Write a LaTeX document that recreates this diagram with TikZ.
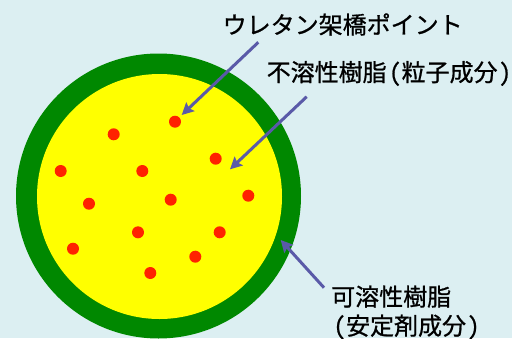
\documentclass[tikz,border=0pt]{standalone}
\usepackage{fontspec}
\newfontfamily\jph[RawFeature={+halt},FakeBold=0.8]{Noto Sans CJK JP}
\newfontfamily\jpw[RawFeature={+hwid},FakeBold=0.8]{Noto Sans CJK JP}
\newcommand{\lp}{{\jpw\hspace{0.1em}（\hspace{0.02em}}}
\newcommand{\rp}{{\jpw\hspace{0.06em}）}}
\usetikzlibrary{arrows.meta}
\definecolor{bg}{RGB}{220,239,242}
\definecolor{shell}{RGB}{0,136,0}
\definecolor{core}{RGB}{255,255,0}
\definecolor{dot}{RGB}{255,34,0}
\definecolor{arr}{RGB}{90,90,168}
\begin{document}
\begin{tikzpicture}[x=1pt,y=-1pt,
  lbl/.style={font=\jph\fontsize{24}{29}\selectfont, anchor=west, inner sep=0pt, text=black},
  ptr/.style={draw=arr, line width=3pt, -{Stealth[length=12pt,width=12pt,inset=2pt]}},
  dotm/.style={circle, fill=dot, minimum size=12pt, inner sep=0pt}]
\path[fill=bg] (0,0) rectangle (512,338);
\useasboundingbox (0,0) rectangle (512,338);
\fill[shell] (158.5,196) circle[radius=142.5];
\fill[core] (159.5,196.5) circle[radius=122.5];
\node[dotm] (d1) at (175,121.7) {};
\node[dotm] (d2) at (113.7,134.3) {};
\node[dotm] (d3) at (215.7,158.7) {};
\node[dotm] (d4) at (60.7,171) {};
\node[dotm] (d5) at (142.3,171) {};
\node[dotm] (d6) at (248.3,195.7) {};
\node[dotm] (d7) at (89,203.7) {};
\node[dotm] (d8) at (170.7,199.7) {};
\node[dotm] (d9) at (138,232.3) {};
\node[dotm] (d10) at (219.7,232.3) {};
\node[dotm] (d11) at (73,248.7) {};
\node[dotm] (d12) at (195.3,256.7) {};
\node[dotm] (d13) at (150.3,273) {};
\node[lbl] (t1) at (222.5,24.5) {ウレタン架橋ポイント};
\node[lbl] (t2) at (266.5,73.5) {不溶性樹脂\lp 粒子成分\rp};
\node[lbl, align=left] (t3) at (331,312.5) {可溶性樹脂\\\lp 安定剤成分\rp};
\coordinate (s1) at (258.3,42.3);
\coordinate (e1) at (181.7,115);
\coordinate (s2) at (306.7,96.7);
\coordinate (e2) at (230,169.3);
\coordinate (s3) at (324,287.7);
\coordinate (e3) at (280.7,240);
\draw[ptr] (s1) -- (e1);
\draw[ptr] (s2) -- (e2);
\draw[ptr] (s3) -- (e3);
\end{tikzpicture}
\end{document}
